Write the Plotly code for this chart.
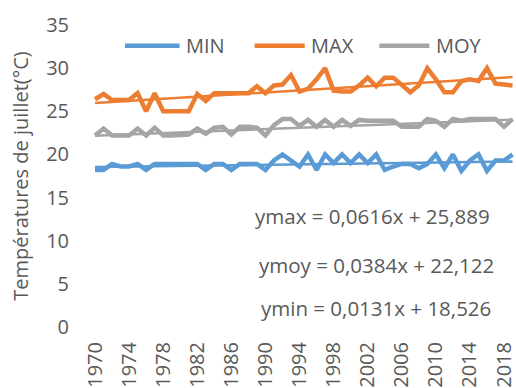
import plotly.graph_objects as go

# July temperatures (°C), 1970-2019
years = list(range(1970, 2020))

t_min = [18.2, 18.2, 18.9, 18.6, 18.6, 18.9, 18.2, 18.9, 18.9, 18.9,
         18.9, 18.9, 18.9, 18.2, 18.9, 18.9, 18.2, 18.9, 18.9, 18.9,
         18.2, 19.3, 20.0, 19.3, 18.6, 20.0, 18.2, 20.0, 19.0, 20.0,
         19.0, 20.0, 19.0, 20.0, 18.2, 18.6, 18.9, 18.9, 18.4, 18.9,
         20.0, 18.4, 20.0, 18.1, 19.3, 20.0, 18.1, 19.3, 19.3, 20.0]

t_max = [26.4, 27.0, 26.3, 26.3, 26.3, 27.1, 25.0, 27.1, 25.0, 25.0,
         25.0, 25.0, 27.0, 26.2, 27.1, 27.1, 27.1, 27.1, 27.1, 27.9,
         27.1, 28.0, 28.1, 29.2, 27.3, 27.6, 28.7, 30.0, 27.4, 27.3,
         27.3, 28.0, 28.9, 27.9, 28.9, 28.9, 28.1, 27.2, 28.0, 30.0,
         28.7, 27.2, 27.2, 28.5, 28.7, 28.5, 30.0, 28.2, 28.1, 28.0]

t_moy = [22.2, 23.0, 22.2, 22.2, 22.2, 23.0, 22.2, 23.1, 22.2, 22.2,
         22.2, 22.3, 23.0, 22.4, 23.1, 23.2, 22.3, 23.2, 23.2, 23.1,
         22.2, 23.4, 24.1, 24.1, 23.3, 24.0, 23.2, 24.0, 23.2, 24.0,
         23.3, 24.0, 23.9, 23.9, 23.9, 23.9, 23.2, 23.2, 23.2, 24.1,
         23.9, 23.2, 24.1, 23.9, 24.1, 24.1, 24.1, 24.1, 23.2, 24.1]

# Linear trends y = a*x + b, x = 1 for the first year
trend_names = ["ymax", "ymoy", "ymin"]
trend_slopes = [0.0616, 0.0384, 0.0131]
trend_intercepts = [25.889, 22.122, 18.526]

tick_years = list(range(1970, 2019, 4))
y_ticks = [0, 5, 10, 15, 20, 25, 30, 35]

BLUE = "#5B9BD5"
ORANGE = "#ED7D31"
GRAY = "#A5A5A5"
TXT = "#595959"
FONT = "Open Sans"

fig = go.Figure()

series = [("MIN", t_min, BLUE), ("MAX", t_max, ORANGE), ("MOY", t_moy, GRAY)]
for name, vals, col in series:
    fig.add_trace(go.Scatter(x=years, y=vals, mode="lines", name=name,
                             showlegend=False,
                             line=dict(color=col, width=4.5)))

trend_colors = {"ymax": ORANGE, "ymoy": GRAY, "ymin": BLUE}
for nm, a, b in zip(trend_names, trend_slopes, trend_intercepts):
    xs = [years[0], years[-1]]
    ys = [a * (yr - years[0] + 1) + b for yr in xs]
    fig.add_trace(go.Scatter(x=xs, y=ys, mode="lines", showlegend=False,
                             hoverinfo="skip",
                             line=dict(color=trend_colors[nm], width=2.5)))

# Legend row across the top of the plot: swatch line + label
legend_x = [(0.080, 0.209), (0.386, 0.504), (0.680, 0.798)]
legend_y = 0.931
for (name, _, col), (x0, x1) in zip(series, legend_x):
    fig.add_shape(type="line", xref="paper", yref="paper",
                  x0=x0, x1=x1, y0=legend_y, y1=legend_y,
                  line=dict(color=col, width=4.5))
    fig.add_annotation(x=x1 + 0.01, y=legend_y, xref="paper", yref="paper",
                       xanchor="left", yanchor="middle", showarrow=False,
                       text=name, font=dict(family=FONT, size=20, color=TXT))


def fmt(v, nd):
    return f"{v:.{nd}f}".replace(".", ",")


label_pos = {"ymax": (2002.6, 12.85), "ymoy": (2003.0, 7.23),
             "ymin": (2003.0, 2.18)}
for nm, a, b in zip(trend_names, trend_slopes, trend_intercepts):
    px, py = label_pos[nm]
    fig.add_annotation(x=px, y=py, xref="x", yref="y", showarrow=False,
                       text=f"{nm} = {fmt(a, 4)}x + {fmt(b, 3)}",
                       font=dict(family=FONT, size=20.5, color=TXT))

fig.update_layout(
    width=516, height=388,
    margin=dict(l=91, r=0, t=25, b=58),
    paper_bgcolor="white", plot_bgcolor="white",
    font=dict(family=FONT, color=TXT),
    showlegend=False,
    xaxis=dict(range=[1969.53, 2019.29], tickmode="array",
               tickvals=tick_years, ticktext=[str(y) for y in tick_years],
               tickangle=-90, showgrid=False, zeroline=False,
               showline=False, ticks="", ticklabelstandoff=10,
               ticklabeloverflow="allow",
               tickfont=dict(family=FONT, size=20, color=TXT)),
    yaxis=dict(range=[0, 35], tickvals=y_ticks, showgrid=False,
               zeroline=False, showline=False, ticks="",
               ticklabelstandoff=21,
               tickfont=dict(family=FONT, size=20, color=TXT),
               title=dict(text="Températures de juillet(°C)", standoff=12,
                          font=dict(family=FONT, size=20, color=TXT))),
)

fig.write_html("out.html")
